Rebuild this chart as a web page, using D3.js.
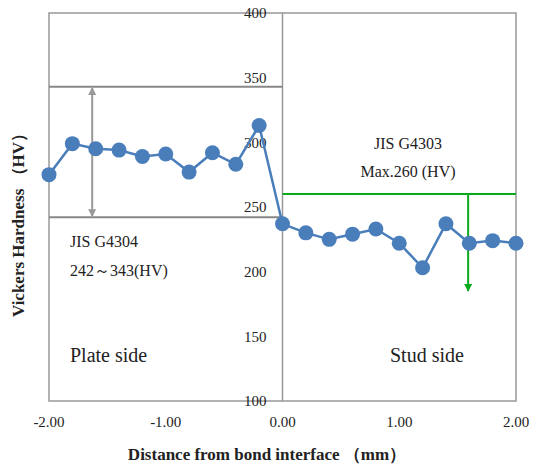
<!DOCTYPE html>
<html>
<head>
<meta charset="utf-8">
<style>
body { margin: 0; background: #fff; }
svg text { font-family: 'Liberation Serif', 'Times New Roman', Times, serif; fill: #222; }
.tick-label { font-size: 15px; }
.axis-title { font-size: 17px; font-weight: bold; }
.note { font-size: 16px; }
.side { font-size: 20px; }
</style>
</head>
<body>
<script src="https://cdn.jsdelivr.net/npm/d3@7"></script>
<script>

// distance from bond interface (mm) and measured hardness (HV)
var distance = [-2.0, -1.8, -1.6, -1.4, -1.2, -1.0, -0.8, -0.6, -0.4, -0.2,
                0.0, 0.2, 0.4, 0.6, 0.8, 1.0, 1.2, 1.4, 1.6, 1.8, 2.0];
var hardness = [275, 299, 295, 294, 289, 291, 277, 292, 283, 313,
                237, 230, 225, 229, 233, 222, 203, 237, 222, 224, 222];

var xTicks = [-2, -1, 0, 1, 2];
var yTicks = [100, 150, 200, 250, 300, 350, 400];

// spec limits
var plateRange = [242, 343];   // JIS G4304
var studMax = 260;             // JIS G4303
var arrowX = { plate: -1.63, stud: 1.59 };
var studArrowEnd = 185;

var width = 534, height = 467;
var margin = { left: 49, right: 18, top: 13, bottom: 66 };

var svg = d3.select("body").append("svg")
    .attr("width", width)
    .attr("height", height);

var x = d3.scaleLinear().domain([-2, 2]).range([margin.left, width - margin.right]);
var y = d3.scaleLinear().domain([100, 400]).range([height - margin.bottom, margin.top]);

var defs = svg.append("defs");
function marker(id, color) {
  defs.append("marker")
      .attr("id", id)
      .attr("viewBox", "0 0 10 10")
      .attr("refX", 9).attr("refY", 5)
      .attr("markerWidth", 4).attr("markerHeight", 4)
      .attr("markerUnits", "strokeWidth")
      .attr("orient", "auto-start-reverse")
      .append("path")
      .attr("d", "M0,0 L10,5 L0,10 z")
      .attr("fill", color);
}
marker("arrowGray", "#999");
marker("arrowGreen", "#0aaa1e");

// plot frame
svg.append("rect")
    .attr("x", x(-2)).attr("y", y(400))
    .attr("width", x(2) - x(-2)).attr("height", y(100) - y(400))
    .attr("fill", "none")
    .attr("stroke", "#999")
    .attr("stroke-width", 1.5);

// y axis at x = 0
svg.append("line")
    .attr("x1", x(0)).attr("x2", x(0))
    .attr("y1", y(400)).attr("y2", y(100))
    .attr("stroke", "#999").attr("stroke-width", 1.5);

// plate side limits
svg.selectAll(".plate-limit")
    .data(plateRange)
    .enter().append("line")
    .attr("class", "plate-limit")
    .attr("x1", x(-2)).attr("x2", x(0))
    .attr("y1", function(d) { return y(d); })
    .attr("y2", function(d) { return y(d); })
    .attr("stroke", "#888").attr("stroke-width", 2);

svg.append("line")
    .attr("x1", x(arrowX.plate)).attr("x2", x(arrowX.plate))
    .attr("y1", y(plateRange[1]) + 1).attr("y2", y(plateRange[0]) - 1)
    .attr("stroke", "#999").attr("stroke-width", 2)
    .attr("marker-start", "url(#arrowGray)")
    .attr("marker-end", "url(#arrowGray)");

// y tick labels
svg.append("g").selectAll("text")
    .data(yTicks)
    .enter().append("text")
    .attr("class", "tick-label")
    .attr("x", x(0) - 16)
    .attr("y", function(d) { return y(d); })
    .attr("dy", "0.35em")
    .attr("text-anchor", "end")
    .text(function(d) { return d; });

// stud side limit
svg.append("line")
    .attr("x1", x(0)).attr("x2", x(2))
    .attr("y1", y(studMax)).attr("y2", y(studMax))
    .attr("stroke", "#0aaa1e").attr("stroke-width", 2);

svg.append("line")
    .attr("x1", x(arrowX.stud)).attr("x2", x(arrowX.stud))
    .attr("y1", y(studMax)).attr("y2", y(studArrowEnd))
    .attr("stroke", "#0aaa1e").attr("stroke-width", 2)
    .attr("marker-end", "url(#arrowGreen)");

// data series
var pts = distance.map(function(d, i) { return [d, hardness[i]]; });

svg.append("path")
    .datum(pts)
    .attr("fill", "none")
    .attr("stroke", "#4a7ebb")
    .attr("stroke-width", 2.5)
    .attr("d", d3.line()
        .x(function(d) { return x(d[0]); })
        .y(function(d) { return y(d[1]); }));

svg.selectAll(".dot")
    .data(pts)
    .enter().append("circle")
    .attr("class", "dot")
    .attr("cx", function(d) { return x(d[0]); })
    .attr("cy", function(d) { return y(d[1]); })
    .attr("r", 7.5)
    .attr("fill", "#4a7ebb");

// x tick labels (plain hyphen, like the original)
svg.append("g").selectAll("text")
    .data(xTicks)
    .enter().append("text")
    .attr("class", "tick-label")
    .attr("x", function(d) { return x(d); })
    .attr("y", y(100) + 21)
    .attr("dy", "0.35em")
    .attr("text-anchor", "middle")
    .text(function(d) { return d.toFixed(2); });

// annotations
svg.append("text").attr("class", "note").attr("x", 70).attr("y", 247).text("JIS G4304");
svg.append("text").attr("class", "note").attr("x", 70).attr("y", 276).text("242～343(HV)");
svg.append("text").attr("class", "side").attr("x", 70).attr("y", 362).text("Plate side");
svg.append("text").attr("class", "side").attr("x", 390).attr("y", 362).text("Stud side");
svg.append("text").attr("class", "note").attr("x", 408).attr("y", 149)
    .attr("text-anchor", "middle").text("JIS G4303");
svg.append("text").attr("class", "note").attr("x", 408).attr("y", 177)
    .attr("text-anchor", "middle").text("Max.260 (HV)");

// axis titles
svg.append("text")
    .attr("class", "axis-title")
    .attr("x", 267).attr("y", 460)
    .attr("text-anchor", "middle")
    .text("Distance from bond interface  （mm）");

svg.append("text")
    .attr("class", "axis-title")
    .attr("transform", "translate(24,221) rotate(-90)")
    .attr("text-anchor", "middle")
    .text("Vickers Hardness  （HV）");

</script>
</body>
</html>
